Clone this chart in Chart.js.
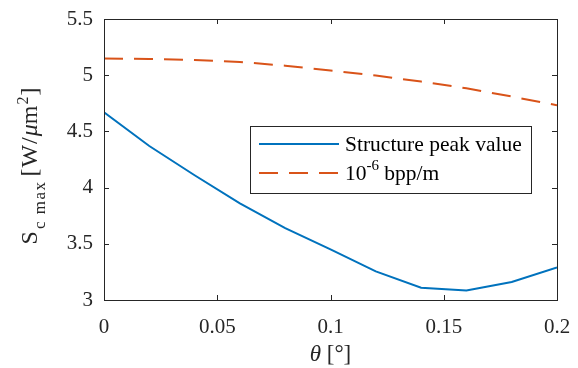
<!DOCTYPE html>
<html>
<head>
<meta charset="utf-8">
<script src="https://cdn.jsdelivr.net/npm/chart.js@4/dist/chart.umd.min.js"></script>
<style>
  body { margin: 0; background: #fff; }
  #wrap { width: 578px; height: 368px; }
</style>
</head>
<body>
<div id="wrap"><canvas id="sChart" width="578" height="368"></canvas></div>
<script>
// theta in degrees
const theta = [0, 0.02, 0.04, 0.06, 0.08, 0.1, 0.12, 0.14, 0.16, 0.18, 0.2];
// Sc max, structure peak value
const peakValue = [4.67, 4.37, 4.11, 3.86, 3.64, 3.45, 3.255, 3.11, 3.085, 3.16, 3.29];
// Sc max for 10^-6 bpp/m
const bppLimit = [5.148, 5.145, 5.135, 5.118, 5.085, 5.042, 4.998, 4.943, 4.884, 4.81, 4.733];

const xTicks = [0, 0.05, 0.1, 0.15, 0.2];
const xTickLabels = ["0", "0.05", "0.1", "0.15", "0.2"];
const yTicks = [3, 3.5, 4, 4.5, 5, 5.5];
const yTickLabels = ["3", "3.5", "4", "4.5", "5", "5.5"];

const AX = "#262626";
const SERIF = "'Liberation Serif', 'DejaVu Serif', serif";

const toPoints = (xs, ys) => xs.map((x, i) => ({ x: x, y: ys[i] }));

// draws a run of text pieces, each with its own size / style / baseline shift
function drawPieces(ctx, pieces, x, y, align) {
  let total = 0;
  pieces.forEach(p => {
    ctx.font = (p.italic ? "italic " : "") + p.size + "px " + SERIF;
    ctx.letterSpacing = (p.ls || 0) + "px";
    p.w = ctx.measureText(p.text).width + (p.gap || 0);
    total += p.w;
  });
  let cx = align === "center" ? x - total / 2 : x;
  ctx.textAlign = "left";
  ctx.textBaseline = "alphabetic";
  pieces.forEach(p => {
    ctx.font = (p.italic ? "italic " : "") + p.size + "px " + SERIF;
    ctx.letterSpacing = (p.ls || 0) + "px";
    ctx.fillText(p.text, cx + (p.gap || 0), y + (p.dy || 0));
    cx += p.w;
  });
  ctx.letterSpacing = "0px";
}

// box, inward ticks, axis titles and legend (MATLAB style)
const matlabFrame = {
  id: "matlabFrame",
  afterDatasetsDraw(chart) {
    const { ctx, chartArea: a, scales } = chart;
    ctx.save();
    ctx.strokeStyle = AX;
    ctx.lineWidth = 1;
    ctx.strokeRect(a.left + 0.5, a.top + 0.5, a.right - a.left, a.bottom - a.top);
    ctx.beginPath();
    xTicks.forEach(v => {
      const px = Math.round(scales.x.getPixelForValue(v)) + 0.5;
      ctx.moveTo(px, a.bottom); ctx.lineTo(px, a.bottom - 5);
      ctx.moveTo(px, a.top); ctx.lineTo(px, a.top + 5);
    });
    yTicks.forEach(v => {
      const py = Math.round(scales.y.getPixelForValue(v)) + 0.5;
      ctx.moveTo(a.left, py); ctx.lineTo(a.left + 5, py);
      ctx.moveTo(a.right, py); ctx.lineTo(a.right - 5, py);
    });
    ctx.stroke();

    ctx.fillStyle = AX;
    // x title
    drawPieces(ctx, [
      { text: "\u03B8", size: 23, italic: true },
      { text: " [\u00B0]", size: 23 }
    ], (a.left + a.right) / 2, 361, "center");

    // y title (rotated)
    ctx.save();
    ctx.translate(37, 166);
    ctx.rotate(-Math.PI / 2);
    drawPieces(ctx, [
      { text: "S", size: 24 },
      { text: "c max", size: 17, dy: 8, ls: 1.5, gap: 2 },
      { text: "[W/", size: 24, ls: 1, gap: 4 },
      { text: "\u03BC", size: 24, italic: true },
      { text: "m", size: 24, ls: 1 },
      { text: "2", size: 16, dy: -9 },
      { text: "]", size: 24, gap: 1 }
    ], 0, 0, "center");
    ctx.restore();

    // legend
    const lx = 250, ly = 126, lw = 281, lh = 67;
    ctx.fillStyle = "#fff";
    ctx.fillRect(lx, ly, lw, lh);
    ctx.strokeStyle = AX;
    ctx.strokeRect(lx + 0.5, ly + 0.5, lw, lh);
    const rows = [
      { ds: chart.data.datasets[0], y: 144, pieces: [{ text: "Structure peak value", size: 21.5 }] },
      { ds: chart.data.datasets[1], y: 173, pieces: [
        { text: "10", size: 21.5 }, { text: "-6", size: 15, dy: -10 }, { text: " bpp/m", size: 21.5 }
      ] }
    ];
    rows.forEach(r => {
      ctx.strokeStyle = r.ds.borderColor;
      ctx.lineWidth = r.ds.borderWidth;
      ctx.setLineDash(r.ds.borderDash || []);
      ctx.beginPath();
      ctx.moveTo(259, r.y); ctx.lineTo(339, r.y);
      ctx.stroke();
      ctx.setLineDash([]);
      ctx.fillStyle = "#000";
      drawPieces(ctx, r.pieces, 345, r.y + 7, "left");
    });
    ctx.restore();
  }
};

new Chart(document.getElementById("sChart"), {
  type: "line",
  data: {
    datasets: [
      {
        label: "Structure peak value",
        data: toPoints(theta, peakValue),
        borderColor: "#0072BD",
        borderWidth: 2,
        pointRadius: 0,
        tension: 0
      },
      {
        label: "10^-6 bpp/m",
        data: toPoints(theta, bppLimit),
        borderColor: "#D95319",
        borderWidth: 2,
        borderDash: [19, 11],
        pointRadius: 0,
        tension: 0
      }
    ]
  },
  options: {
    responsive: false,
    animation: false,
    layout: { padding: 0 },
    plugins: { legend: { display: false }, tooltip: { enabled: false } },
    scales: {
      x: {
        type: "linear",
        min: 0,
        max: 0.2,
        afterBuildTicks: s => { s.ticks = xTicks.map(v => ({ value: v })); },
        afterFit: s => { s.height = 68; s.paddingLeft = 0; s.paddingRight = 21; },
        grid: { display: false, drawTicks: false },
        border: { display: false },
        ticks: {
          padding: 15,
          color: AX,
          font: { family: SERIF, size: 21 },
          callback: (v, i) => xTickLabels[i]
        }
      },
      y: {
        type: "linear",
        min: 3,
        max: 5.5,
        afterBuildTicks: s => { s.ticks = yTicks.map(v => ({ value: v })); },
        afterFit: s => { s.width = 104; s.paddingTop = 19; s.paddingBottom = 0; },
        grid: { display: false, drawTicks: false },
        border: { display: false },
        ticks: {
          padding: 11,
          color: AX,
          font: { family: SERIF, size: 21 },
          callback: (v, i) => yTickLabels[i]
        }
      }
    }
  },
  plugins: [matlabFrame]
});
</script>
</body>
</html>
